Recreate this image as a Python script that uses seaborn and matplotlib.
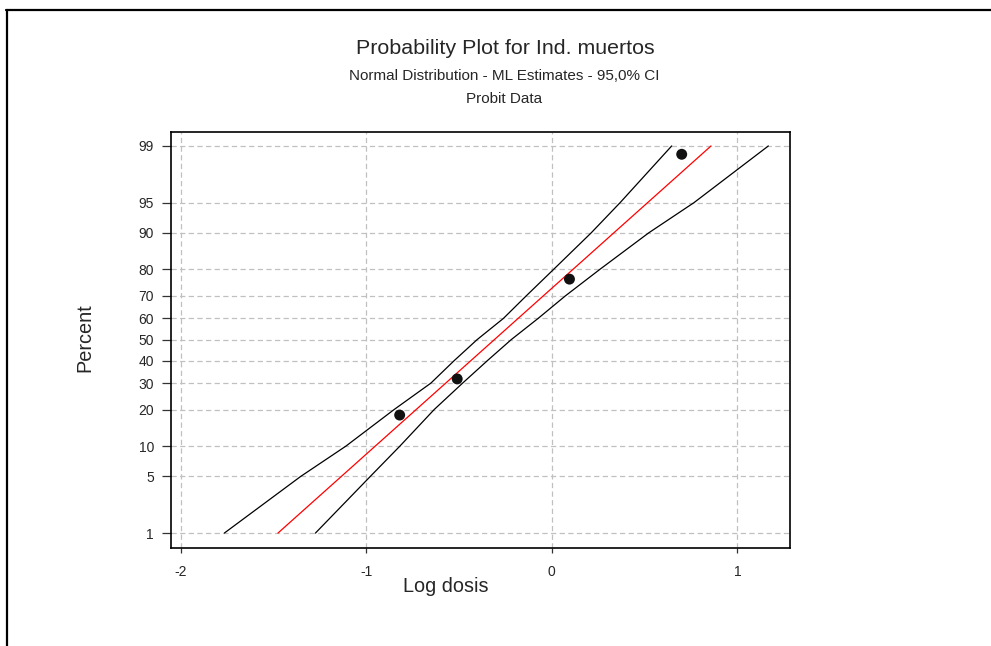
import numpy as np
import matplotlib
matplotlib.use("Agg")
import matplotlib.pyplot as plt
from matplotlib.lines import Line2D
import seaborn as sns
from statistics import NormalDist

# ---- data ----
log_dose = [-0.82, -0.51, 0.095, 0.70]
pct_dead = [18.2, 31.8, 76.6, 98.7]

fit_x = [-1.476, 0.858]
fit_p = [1, 99]

ci_p = [1, 5, 10, 20, 30, 40, 50, 60, 70, 80, 90, 95, 99]
ci_left = [-1.765, -1.353, -1.11, -0.85, -0.652, -0.526, -0.402, -0.261,
           -0.138, 0.009, 0.212, 0.368, 0.646]
ci_right = [-1.274, -0.978, -0.819, -0.634, -0.481, -0.347, -0.218, -0.074,
            0.073, 0.258, 0.522, 0.766, 1.167]

y_ticks = [1, 5, 10, 20, 30, 40, 50, 60, 70, 80, 90, 95, 99]
x_ticks = [-2, -1, 0, 1]

title = "Probability Plot for Ind. muertos"
subtitle1 = "Normal Distribution - ML Estimates - 95,0% CI"
subtitle2 = "Probit Data"
xlabel = "Log dosis"
ylabel = "Percent"

# ---- style ----
sns.set_style("white")
plt.rcParams["font.family"] = ["Liberation Sans", "DejaVu Sans"]

nd = NormalDist()
_ppf = np.vectorize(nd.inv_cdf, otypes=[float])
_cdf = np.vectorize(nd.cdf, otypes=[float])


def fwd(p):
    p = np.clip(np.asarray(p, dtype=float) / 100.0, 1e-12, 1 - 1e-12)
    return _ppf(p)


def inv(z):
    return _cdf(np.asarray(z, dtype=float)) * 100.0


fig = plt.figure(figsize=(9.91, 6.46), dpi=100)
W, H = 991, 646
ax = fig.add_axes([170.7 / W, 1 - 547.7 / H, (789.7 - 170.7) / W, (547.7 - 132) / H])

sns.lineplot(x=ci_left, y=ci_p, ax=ax, color="black", lw=0.9, sort=False, estimator=None)
sns.lineplot(x=ci_right, y=ci_p, ax=ax, color="black", lw=0.9, sort=False, estimator=None)
sns.lineplot(x=fit_x, y=fit_p, ax=ax, color="red", lw=0.9, sort=False, estimator=None)
sns.scatterplot(x=log_dose, y=pct_dead, ax=ax, color="#111111", s=62,
                edgecolor="none", zorder=5)

ax.set_yscale("function", functions=(fwd, inv))
ax.set_xlim(-2.054, 1.282)
ax.set_ylim(nd.cdf(-2.502) * 100, nd.cdf(2.494) * 100)
ax.set_yticks(y_ticks)
ax.set_yticklabels([str(t) for t in y_ticks])
ax.minorticks_off()
ax.set_xticks(x_ticks)
ax.set_xticklabels([str(t) for t in x_ticks])

ax.grid(True, color="#c0c0c0", lw=0.9, linestyle=(0, (4.2, 2.7)))
ax.set_axisbelow(True)
for s in ax.spines.values():
    s.set_color("black")
    s.set_linewidth(1.2)

ax.tick_params(axis="y", direction="out", length=6.5, width=0.9, color="#333333",
               pad=5.5, labelsize=10, left=True)
ax.tick_params(axis="x", direction="out", length=3.8, width=0.9, color="#333333",
               pad=8.5, labelsize=10, bottom=True)
ax.set_xlabel("")
ax.set_ylabel("")

# titles and axis labels
fig.text(505 / W, 1 - 54.5 / H, title, ha="center", va="baseline", fontsize=15.4)
fig.text(504 / W, 1 - 80 / H, subtitle1, ha="center", va="baseline", fontsize=11)
fig.text(504 / W, 1 - 103 / H, subtitle2, ha="center", va="baseline", fontsize=11)
fig.text(446 / W, 1 - 591.7 / H, xlabel, ha="center", va="baseline", fontsize=14.3)
fig.text(85 / W, 1 - 338 / H, ylabel, ha="center", va="center", rotation=90, fontsize=14.3)

# outer frame (top and left lines)
fig.add_artist(Line2D([6 / W, 1.0], [1 - 10 / H, 1 - 10 / H], color="black", lw=1.6,
                      transform=fig.transFigure))
fig.add_artist(Line2D([7 / W, 7 / W], [0.0, 1 - 10 / H], color="black", lw=1.6,
                      transform=fig.transFigure))

fig.savefig("out.png", dpi=100)
